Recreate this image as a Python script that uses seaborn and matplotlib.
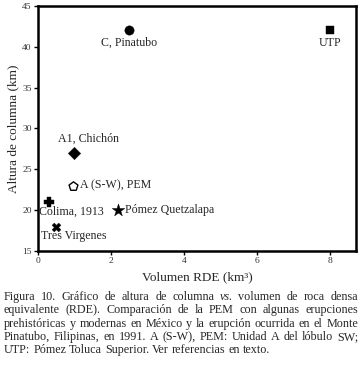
import matplotlib
matplotlib.use("Agg")
import matplotlib.pyplot as plt
import seaborn as sns

sns.set_theme(style="ticks")
plt.rcParams['font.family'] = ['Liberation Serif', 'DejaVu Serif']

# data
names = ["C, Pinatubo", "UTP", "A1, Chichón", "A (S-W), PEM",
         "Colima, 1913", "Pómez Quetzalapa", "Tres Virgenes"]
volumen = [2.5, 8.0, 1.0, 0.95, 0.3, 2.2, 0.5]
altura = [42, 42, 27, 23, 21, 20, 18]
markers = ["o", "s", "D", "p", "P", "*", "X"]
filled = [True, True, True, False, True, True, True]
sizes = [45, 40, 40, 45, 50, 90, 40]
# label offsets (points) and alignment
offsets = [(0, -9), (0, -9), (10, 10), (5, 0), (-7, -7), (5, 0), (-11, -6.5)]
aligns = ["center", "center", "center", "left", "left", "left", "left"]

caption = [
    "Figura 10. Gráfico de altura de columna vs. volumen de roca densa",
    "equivalente (RDE). Comparación de la PEM con algunas erupciones",
    "prehistóricas y modernas en México y la erupción ocurrida en el Monte",
    "Pinatubo, Filipinas, en 1991. A (S-W), PEM: Unidad A del lóbulo SW;",
    "UTP: Pómez Toluca Superior. Ver referencias en texto.",
]

fig = plt.figure(figsize=(3.62, 3.65), dpi=100)
ax = fig.add_axes([0.105, 0.312, 0.878, 0.672])

for i in range(len(names)):
    sns.scatterplot(x=[volumen[i]], y=[altura[i]], marker=markers[i], s=sizes[i],
                    color="black" if filled[i] else "white",
                    edgecolor="black", linewidth=1.0 if not filled[i] else 0.3,
                    ax=ax, legend=False, zorder=3)
    ax.annotate(names[i], (volumen[i], altura[i]), xytext=offsets[i],
                textcoords="offset points", ha=aligns[i], va="center",
                fontsize=8.6)

ax.set_xlim(0, 8.72)
ax.set_ylim(15, 45)
ax.set_xticks([0, 2, 4, 6, 8])
ax.set_yticks([15, 20, 25, 30, 35, 40, 45])
ax.tick_params(labelsize=6.8, length=3, width=1, pad=1.5, colors="black",
               labelcolor="#333333")
for s in ax.spines.values():
    s.set_linewidth(1.8)
    s.set_color("black")
ax.set_xlabel("Volumen RDE (km³)", fontsize=9.5, labelpad=4.5)
ax.set_ylabel("Altura de columna (km)", fontsize=9.5, labelpad=2)

# caption: size fitted so the last (unjustified) line is ~266 px wide,
# the other lines justified word by word between x=4 and x=358
renderer = fig.canvas.get_renderer()
probe = fig.text(0, 0, caption[-1], fontsize=10)
cap_size = 10 * 266 / probe.get_window_extent(renderer).width
probe.remove()

x0, x1 = 4 / 362, 358 / 362
for j, line in enumerate(caption):
    y = 1 - (297 + 13.3 * j) / 365
    words = line.split(" ")
    texts = []
    for w in words:
        t = fig.text(0, y, w, fontsize=cap_size, ha="left", va="center",
                     fontstyle="italic" if w == "vs." else "normal")
        texts.append(t)
    widths = [t.get_window_extent(renderer).width / fig.bbox.width for t in texts]
    if j < len(caption) - 1:
        space = (x1 - x0 - sum(widths)) / (len(words) - 1)
    else:
        full = fig.text(0, 0, line, fontsize=cap_size)
        space = (full.get_window_extent(renderer).width / fig.bbox.width
                 - sum(widths)) / (len(words) - 1)
        full.remove()
    xx = x0
    for t, w in zip(texts, widths):
        t.set_x(xx)
        xx += w + space

fig.savefig("out.png", dpi=100)
